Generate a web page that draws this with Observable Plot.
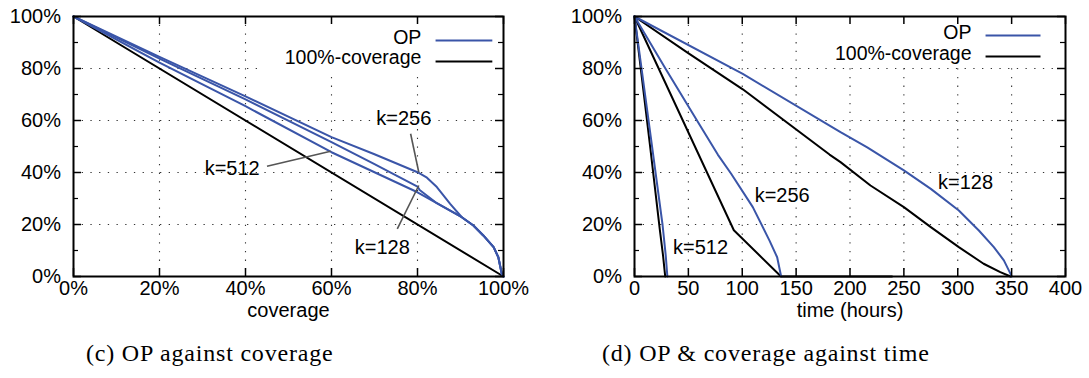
<!DOCTYPE html>
<html><head><meta charset="utf-8">
<script src="https://cdn.jsdelivr.net/npm/d3@7"></script>
<script src="https://cdn.jsdelivr.net/npm/@observablehq/plot@0.6"></script>
<style>
body{margin:0;background:#fff;}
#wrap{position:relative;width:1089px;height:378px;overflow:hidden;background:#fff;}
.panel{position:absolute;top:0;}
.cap{position:absolute;font-family:"Liberation Serif","Times New Roman",serif;font-size:24px;line-height:24px;letter-spacing:0.8px;white-space:nowrap;color:#000;}
</style></head><body>
<div id="wrap">
  <div class="panel" id="left" style="left:0px"></div>
  <div class="panel" id="right" style="left:545px"></div>
  <div class="cap" id="capL" style="left:86px;top:341px"></div>
  <div class="cap" id="capR" style="left:602px;top:341px"></div>
</div>
<script>
// ---------- data ----------
const pctTicks = [0, 20, 40, 60, 80, 100];
const pctMinor = [10, 30, 50, 70, 90];
const timeTicks = [0, 50, 100, 150, 200, 250, 300, 350, 400];
const legendLabels = ["OP", "100%-coverage"];
const captions = ["(c) OP against coverage", "(d) OP & coverage against time"];
const axisLabels = ["coverage", "time (hours)"];
const seriesK = ["k=128", "k=256", "k=512"];

// (c) OP against coverage
const covK256 = [0, 20, 40, 60, 70, 80, 82.2, 84.5, 87.6, 90.3, 93, 95.3, 97.7, 98.8, 99.6, 100];
const opCovK256 = [100, 84.5, 69.3, 53.6, 47, 40.1, 38, 34.4, 27.9, 22.8, 19.6, 15.8, 11.3, 7.4, 1, 0];
const covK128 = [0, 20, 40, 60, 70, 80, 80.5, 84.5, 90.3, 93, 95.3, 97.7, 98.8, 99.6, 100];
const opCovK128 = [100, 83.8, 68.1, 51.7, 43.2, 34.6, 33.3, 28.2, 22.8, 19.6, 15.8, 11.3, 7.4, 1, 0];
const covK512 = [0, 20, 40, 60, 80, 90.3, 93, 95.3, 97.7, 98.8, 99.6, 100];
const opCovK512 = [100, 82.3, 65.5, 47.8, 32.4, 22.8, 19.6, 15.8, 11.3, 7.4, 1, 0];
const diagCov = [0, 100];
const diagRemain = [100, 0];

// (d) OP & coverage against time
const tOpK128 = [0, 100.5, 191.2, 216, 250, 275, 301, 319.6, 333.5, 342.8, 349, 350];
const opTK128 = [100, 77.9, 55.5, 49.7, 40.8, 33.7, 25.4, 17.7, 11.3, 6.2, 1, 0];
const tCovK128 = [0, 49.5, 100.5, 181, 191.2, 219, 250, 275, 301, 324, 339.5, 349];
const covTK128 = [100, 86, 72, 46.9, 44, 35, 26.7, 19, 11.3, 4.9, 1.7, 0];
const tOpK256 = [0, 28.7, 58, 77.3, 89.7, 109.8, 125.3, 132.4, 136.1];
const opTK256 = [100, 80, 60, 46.9, 39.5, 26.7, 13.8, 7.4, 0];
const tCovK256 = [0, 92.2, 136, 239];
const covTK256 = [100, 17.8, 0, 0];
const tOpK512 = [0, 15, 26, 29, 30.5];
const opTK512 = [100, 54, 20, 8, 0];
const tCovK512 = [0, 14.5, 23.5, 26.5, 28.5];
const covTK512 = [100, 50, 18, 8, 0];

// ---------- build ----------
const BLUE = "#3a55a8";
const rows = (xs, ys, series) => xs.map((x, i) => ({x, y: ys[i], series}));

const leftBlue = [...rows(covK128, opCovK128, seriesK[0]), ...rows(covK256, opCovK256, seriesK[1]), ...rows(covK512, opCovK512, seriesK[2])];
const leftBlack = rows(diagCov, diagRemain, "diag");
const rightBlue = [...rows(tOpK128, opTK128, seriesK[0]), ...rows(tOpK256, opTK256, seriesK[1]), ...rows(tOpK512, opTK512, seriesK[2])];
const rightBlack = [...rows(tCovK128, covTK128, seriesK[0]), ...rows(tCovK256, covTK256, seriesK[1]), ...rows(tCovK512, covTK512, seriesK[2])];

const PH = 260; // plot frame height in px

function panel(cfg) {
  const PW = cfg.width - cfg.marginLeft - cfg.marginRight;
  const grid = {stroke: "#333", strokeWidth: 1.1, strokeDasharray: "1.3,7.4"};
  const inner = a => a.slice(1, -1);
  const [lx0, lx1] = cfg.legendLine;
  return Plot.plot({
    width: cfg.width, height: 330,
    marginLeft: cfg.marginLeft, marginRight: cfg.marginRight, marginTop: 16, marginBottom: 54,
    style: {fontFamily: "'Liberation Sans', Arial, sans-serif", fontSize: "20px", color: "#000", background: "transparent", overflow: "visible"},
    x: {domain: cfg.xDomain},
    y: {domain: [0, 100]},
    marks: [
      Plot.ruleX(inner(cfg.xTicks), grid),
      Plot.ruleY(inner(pctTicks), grid),
      Plot.rect([0], {x1: cfg.box[0], x2: cfg.box[1], y1: cfg.box[2], y2: 100, fill: "white"}),
      Plot.line(cfg.black, {x: "x", y: "y", z: "series", stroke: "black", strokeWidth: 2}),
      Plot.line(cfg.blue, {x: "x", y: "y", z: "series", stroke: BLUE, strokeWidth: 2}),
      Plot.frame({stroke: "black", strokeWidth: 2}),
      Plot.ruleX(cfg.xTicks, {insetTop: PH - 8, stroke: "black", strokeWidth: 1.5}),
      Plot.ruleX(cfg.xTicks, {insetBottom: PH - 8, stroke: "black", strokeWidth: 1.5}),
      Plot.ruleY(pctTicks, {insetRight: PW - 8, stroke: "black", strokeWidth: 1.5}),
      Plot.ruleY(pctTicks, {insetLeft: PW - 8, stroke: "black", strokeWidth: 1.5}),
      Plot.ruleY(pctMinor, {insetRight: PW - 5, stroke: "black", strokeWidth: 1.2}),
      Plot.ruleY(pctMinor, {insetLeft: PW - 5, stroke: "black", strokeWidth: 1.2}),
      Plot.axisX(cfg.xTicks, {tickSize: 0, tickPadding: 4, tickFormat: cfg.xFmt, label: null, fill: "black"}),
      Plot.axisY(pctTicks, {tickSize: 0, tickPadding: 12.5, tickFormat: d => d + "%", label: null, fill: "black"}),
      Plot.text([cfg.xLabel], {frameAnchor: "bottom", dy: 40, text: d => d, fill: "black"}),
      // legend
      Plot.text(legendLabels, {x: cfg.legendTextX, y: (d, i) => cfg.legendTextY[i], text: d => d, textAnchor: "end", fill: "black", fontSize: 19.5}),
      Plot.link(legendLabels, {x1: lx0, x2: lx1, y1: (d, i) => cfg.legendY[i], y2: (d, i) => cfg.legendY[i], stroke: (d, i) => i === 0 ? BLUE : "black", strokeWidth: 2}),
      // annotations
      Plot.link(cfg.leaders, {x1: d => d[0], y1: d => d[1], x2: d => d[2], y2: d => d[3], stroke: "#555", strokeWidth: 1.6}),
      Plot.text(seriesK, {x: (d, i) => cfg.labelPos[i][0], y: (d, i) => cfg.labelPos[i][1], text: d => d, fill: "black"})
    ]
  });
}

document.getElementById("left").append(panel({
  width: 545, marginLeft: 73, marginRight: 42,
  xDomain: [0, 100], xTicks: pctTicks, xFmt: d => d + "%", xLabel: axisLabels[0],
  blue: leftBlue, black: leftBlack,
  box: [44, 100, 78],
  legendTextX: 80.9, legendTextY: [92.0, 84.0], legendLine: [84.2, 97.4], legendY: [90.8, 82.7],
  leaders: [[45.0, 42.4, 59.8, 48.2], [78.4, 54.9, 80.3, 40.1], [75.3, 18.3, 80.3, 35.0]],
  labelPos: [[71.8, 11.3], [76.8, 60.6], [36.9, 41.4]]
}));

document.getElementById("right").append(panel({
  width: 544, marginLeft: 89, marginRight: 24,
  xDomain: [0, 400], xTicks: timeTicks, xFmt: d => String(d), xLabel: axisLabels[1],
  blue: rightBlue, black: rightBlack,
  box: [165, 400, 81.5],
  legendTextX: 312.8, legendTextY: [93.8, 85.8], legendLine: [325.8, 376.8], legendY: [92.7, 84.6],
  leaders: [],
  labelPos: [[307.2, 36.3], [137.1, 31.2], [61.3, 11.3]]
}));

document.getElementById("capL").textContent = captions[0];
document.getElementById("capR").textContent = captions[1];
</script>
</body></html>
